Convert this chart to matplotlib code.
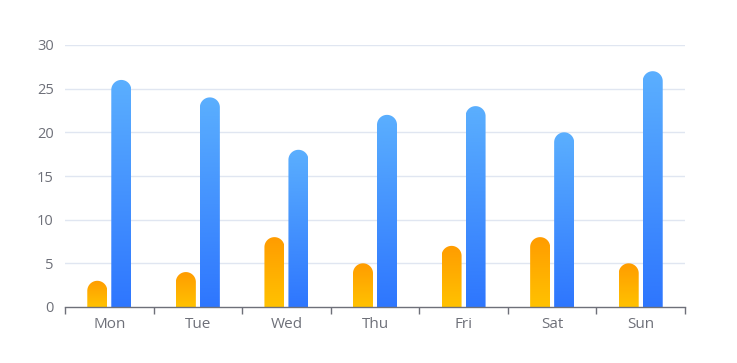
import numpy as np
import matplotlib
matplotlib.use("Agg")
import matplotlib.pyplot as plt
from matplotlib.path import Path
from matplotlib.patches import PathPatch
from matplotlib.colors import LinearSegmentedColormap

days = ["Mon", "Tue", "Wed", "Thu", "Fri", "Sat", "Sun"]
series_a = [3, 4, 8, 5, 7, 8, 5]
series_b = [26, 24, 18, 22, 23, 20, 27]
y_ticks = [0, 5, 10, 15, 20, 25, 30]

W, H = 737, 363
fig = plt.figure(figsize=(W / 100, H / 100), dpi=100)
ax = fig.add_axes([65 / W, 1 - 307 / H, 620 / W, 262 / H])
ax.set_xlim(-0.5, len(days) - 0.5)
ax.set_ylim(0, 30)

px_x = 620 / len(days)          # pixels per category unit
px_y = 262 / 30                 # pixels per value unit
bar_w = 20 / px_x
offset = 12 / px_x
ry = 10 / px_y

cmap_a = LinearSegmentedColormap.from_list("a", ["#FFC200", "#FF9C00"])
cmap_b = LinearSegmentedColormap.from_list("b", ["#2E76FE", "#5BAFFE"])

grad = np.linspace(0, 1, 256).reshape(-1, 1)

def rounded_bar(xc, h, cmap):
    x0, x1 = xc - bar_w / 2, xc + bar_w / 2
    rx = bar_w / 2
    r_y = min(ry, h)
    t = np.linspace(np.pi, 0, 40)
    arc_x = xc + rx * np.cos(t)
    arc_y = (h - r_y) + r_y * np.sin(t)
    verts = [(x0, 0)] + list(zip(arc_x, arc_y)) + [(x1, 0), (x0, 0)]
    codes = [Path.MOVETO] + [Path.LINETO] * (len(verts) - 2) + [Path.CLOSEPOLY]
    patch = PathPatch(Path(verts, codes), facecolor="none", edgecolor="none")
    ax.add_patch(patch)
    im = ax.imshow(grad, cmap=cmap, extent=(x0, x1, 0, h), origin="lower",
                   aspect="auto", zorder=3, interpolation="bilinear")
    im.set_clip_path(patch)

x = np.arange(len(days))
for xi, a, b in zip(x, series_a, series_b):
    rounded_bar(xi - offset, a, cmap_a)
    rounded_bar(xi + offset, b, cmap_b)

ax.set_xlim(-0.5, len(days) - 0.5)
ax.set_ylim(0, 30)

# grid
for yt in y_ticks[1:]:
    ax.axhline(yt, color="#E0E6F1", lw=1, zorder=1)

for s in ["top", "right", "left"]:
    ax.spines[s].set_visible(False)
ax.spines["bottom"].set_color("#6E7079")
ax.spines["bottom"].set_linewidth(1)
ax.spines["bottom"].set_zorder(4)

ax.set_yticks(y_ticks)
ax.set_yticklabels([str(v) for v in y_ticks])
ax.tick_params(axis="y", length=0, pad=8, labelsize=10.5, labelcolor="#6E7079")

ax.set_xticks(np.arange(-0.5, len(days) + 0.5, 1))
ax.set_xticklabels([])
ax.set_xticks(x, minor=True)
ax.set_xticklabels(days, minor=True)
ax.tick_params(axis="x", which="major", length=5, color="#6E7079", width=1)
ax.tick_params(axis="x", which="minor", length=0, pad=7, labelsize=11,
               labelcolor="#6E7079")

for lab in ax.get_xticklabels(minor=True) + ax.get_yticklabels():
    lab.set_fontfamily(["Open Sans", "DejaVu Sans"])

fig.savefig("out.png", dpi=100)
